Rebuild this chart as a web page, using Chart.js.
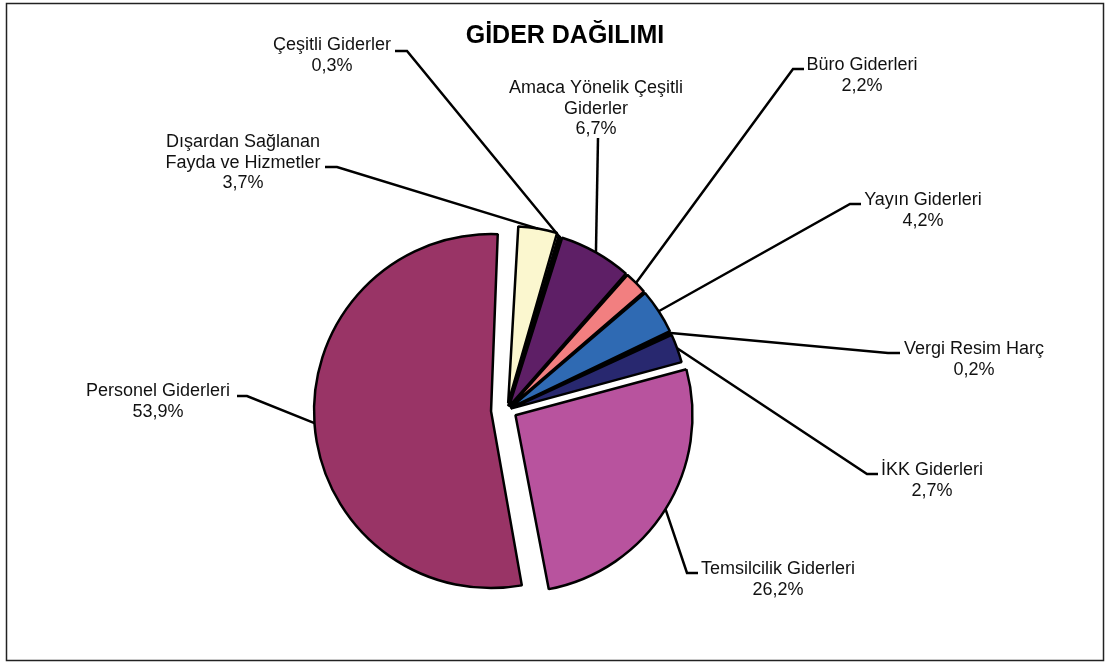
<!DOCTYPE html>
<html>
<head>
<meta charset="utf-8">
<script src="https://cdn.jsdelivr.net/npm/chart.js@4.4.0/dist/chart.umd.min.js"></script>
<style>
	body { margin: 0; background: #fff; }
	#wrap { position: relative; width: 1111px; height: 664px; }
</style>
</head>
<body>
<div id="wrap"><canvas id="pie" width="1111" height="664"></canvas></div>

<script>
// data, clockwise from 12 o'clock
var categories = [
	'Dışardan Sağlanan\nFayda ve Hizmetler',
	'Çeşitli Giderler',
	'Amaca Yönelik Çeşitli\nGiderler',
	'Büro Giderleri',
	'Yayın Giderleri',
	'Vergi Resim Harç',
	'İKK Giderleri',
	'Temsilcilik Giderleri',
	'Personel Giderleri'
];
var shares = [3.7, 0.3, 6.7, 2.2, 4.2, 0.2, 2.7, 26.2, 53.9];
var sliceColors = ['#FBF7CF', '#111111', '#5E1F66', '#F27F80', '#2F6AB3', '#111111', '#28286F', '#B8539E', '#993466'];
var titleText = 'GİDER DAĞILIMI';

// layout
var pieRadius = 177;
var explode = [28, 16, 16, 16, 16, 16, 16, 40, 64];
// label text centre (first line) and leader tick [x from, x to, y]
var labelLayout = [
	{ cx: 243, cy: 142, tick: [325, 337, 167] },
	{ cx: 332, cy: 45, tick: [395, 407, 51] },
	{ cx: 596, cy: 88, tick: [598, 598, 138] },
	{ cx: 862, cy: 65, tick: [804, 793, 69] },
	{ cx: 923, cy: 200, tick: [861, 850, 204] },
	{ cx: 974, cy: 349, tick: [900, 888, 353] },
	{ cx: 932, cy: 470, tick: [878, 867, 474] },
	{ cx: 778, cy: 569, tick: [698, 687, 573] },
	{ cx: 158, cy: 391, tick: [237, 247, 396] }
];
var labelFont = '18px "Liberation Sans", Arial, sans-serif';
var lineGap = 20.7;

function pct(v) {
	return v.toFixed(1).replace('.', ',') + '%';
}

var leaderPlugin = {
	id: 'leaders',
	afterDatasetsUpdate: function(chart) {
		// chart.js grows exploded arcs outward, keep every slice on the same radius
		chart.getDatasetMeta(0).data.forEach(function(arc) {
			var off = (arc.options.offset || 0) / 4;
			var fix = 1 - Math.sin(Math.min(Math.PI, arc.circumference));
			arc.outerRadius = pieRadius - off * fix;
		});
	},
	afterDraw: function(chart) {
		var ctx = chart.ctx;
		ctx.save();

		// frame
		ctx.strokeStyle = '#222';
		ctx.lineWidth = 1.5;
		ctx.strokeRect(6.5, 3.5, 1097, 657);

		// title
		ctx.fillStyle = '#000';
		ctx.font = 'bold 25px "Liberation Sans", Arial, sans-serif';
		ctx.textAlign = 'center';
		ctx.textBaseline = 'alphabetic';
		ctx.fillText(titleText, 565, 43);

		var arcs = chart.getDatasetMeta(0).data;
		ctx.font = labelFont;
		ctx.textBaseline = 'middle';
		ctx.lineWidth = 2.5;
		ctx.strokeStyle = '#000';
		arcs.forEach(function(arc, i) {
			var lay = labelLayout[i];
			var mid = (arc.startAngle + arc.endAngle) / 2;
			var d = (arc.options.offset || 0) / 4 + pieRadius;
			var px = arc.x + Math.cos(mid) * d;
			var py = arc.y + Math.sin(mid) * d;

			ctx.beginPath();
			ctx.moveTo(lay.tick[0], lay.tick[2]);
			ctx.lineTo(lay.tick[1], lay.tick[2]);
			ctx.lineTo(px, py);
			ctx.stroke();

			var lines = categories[i].split('\n');
			lines.push(pct(shares[i]));
			ctx.fillStyle = '#111';
			lines.forEach(function(t, k) {
				ctx.fillText(t, lay.cx, lay.cy + k * lineGap);
			});
		});
		ctx.restore();
	}
};

new Chart(document.getElementById('pie'), {
	type: 'pie',
	data: {
		labels: categories,
		datasets: [{
			data: shares,
			backgroundColor: sliceColors,
			borderColor: '#000',
			borderWidth: 2.5,
			offset: explode,
			radius: pieRadius
		}]
	},
	options: {
		responsive: false,
		animation: false,
		rotation: 3,
		layout: { padding: { left: 0, right: 97, top: 156, bottom: 0 } },
		plugins: {
			legend: { display: false },
			title: { display: false },
			tooltip: { enabled: false }
		}
	},
	plugins: [leaderPlugin]
});
</script>
</body>
</html>
